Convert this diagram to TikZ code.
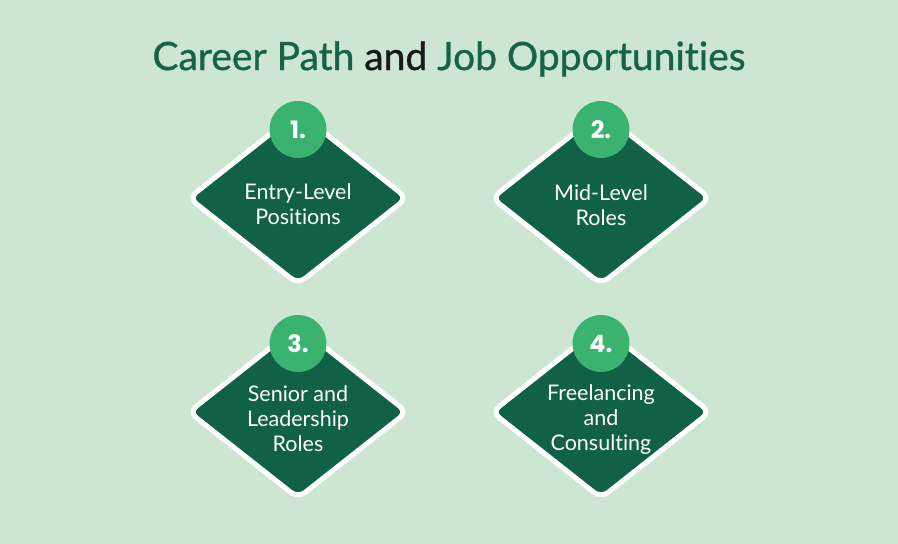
\documentclass[tikz,border=0pt]{standalone}
\usepackage{fontspec}
\setmainfont{Lato}[Ligatures={NoCommon,NoRare}]
\newfontfamily\numfont{Poppins}
\newfontfamily\titlefont[FakeBold=0.9,Ligatures={NoCommon,NoRare}]{Lato}
\usepackage{xcolor}
\usepackage{tikz}
\usetikzlibrary{
  positioning,
  shapes.geometric,
  backgrounds
}
\definecolor{mintbg}{RGB}{205,230,209}
\definecolor{pathgreen}{RGB}{22,99,72}
\definecolor{gemgreen}{RGB}{17,97,71}
\definecolor{badgegreen}{RGB}{58,178,112}
\definecolor{andblack}{RGB}{25,25,25}

\begin{document}
\begin{tikzpicture}[
  x=1pt, y=1pt,
  gem/.style={diamond, draw=white, line width=5pt, fill=gemgreen,
              rounded corners=9pt, minimum width=220pt, minimum height=174pt,
              inner sep=0pt},
  badge/.style={circle, fill=badgegreen, minimum size=57pt, inner sep=0pt,
                text=white, font=\numfont\bfseries\fontsize{24}{24}\selectfont},
  caption/.style={text=white, align=center, inner sep=0pt,
                  font=\fontsize{21.5}{25}\selectfont},
  title/.style={text=pathgreen, inner sep=0pt,
                font=\titlefont\fontsize{39}{42}\selectfont}
]

% ── Canvas ──
\fill[mintbg] (0,0) rectangle (898,-544);
\useasboundingbox (0,0) rectangle (898,-544);

% ── Title ──
\node[title] (head) at (449,-59)
  {Career Path \textcolor{andblack}{and} Job Opportunities};

% ── Row 1 ──
\node[gem] (d1) at (298,-198) {};
\node[caption] (t1) at ([yshift=-6pt]d1.center) {Entry-Level\\Positions};
\node[badge] (b1) at ([yshift=-21pt]d1.north) {1.};

\node[gem] (d2) at (601,-198) {};
\node[caption] (t2) at ([yshift=-7pt]d2.center) {Mid-Level\\Roles};
\node[badge] (b2) at ([yshift=-21pt]d2.north) {2.};

% ── Row 2 ──
\node[gem] (d3) at (298,-412) {};
\node[caption] (t3) at ([yshift=-7pt]d3.center) {Senior and\\Leadership\\Roles};
\node[badge] (b3) at ([yshift=-21pt]d3.north) {3.};

\node[gem] (d4) at (601,-412) {};
\node[caption] (t4) at ([yshift=-8pt]d4.center) {Freelancing\\and\\Consulting};
\node[badge] (b4) at ([yshift=-21pt]d4.north) {4.};

\end{tikzpicture}
\end{document}
